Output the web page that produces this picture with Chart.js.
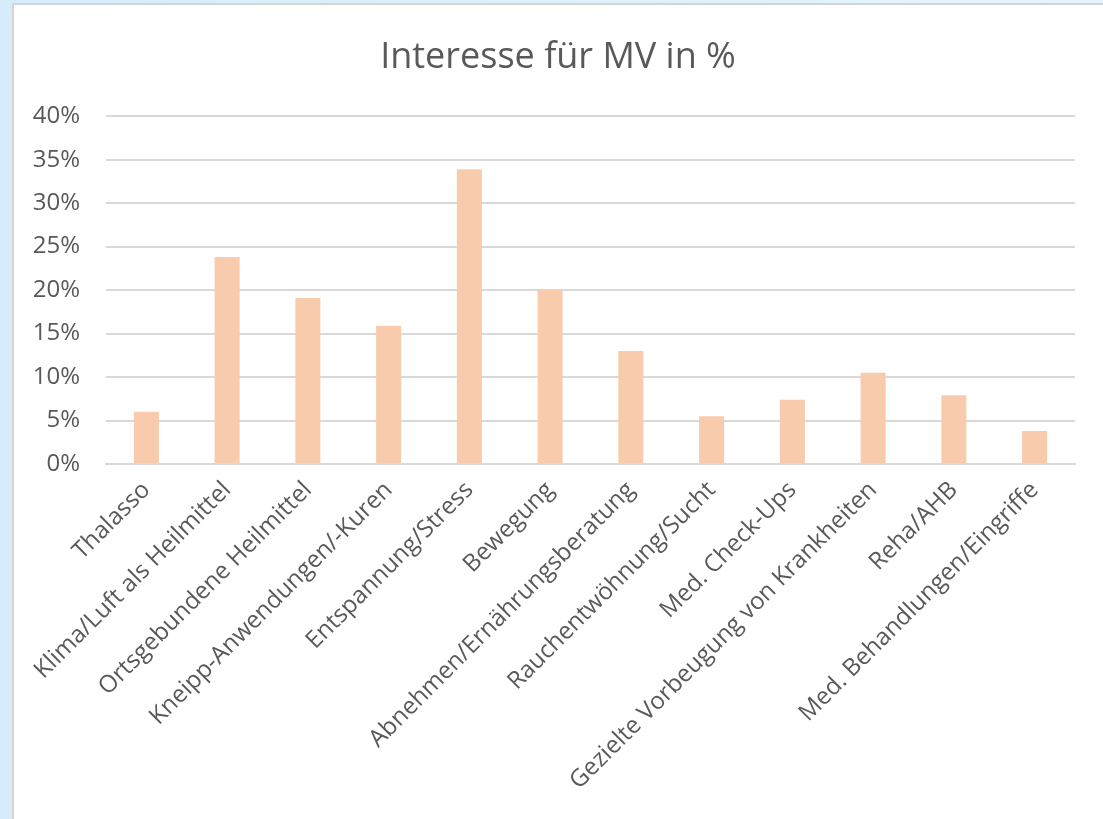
<!DOCTYPE html>
<html>
<head>
<meta charset="utf-8">
<script src="https://cdn.jsdelivr.net/npm/chart.js@4/dist/chart.umd.min.js"></script>
<style>
  html, body { margin: 0; padding: 0; }
  body {
    width: 1103px; height: 819px; overflow: hidden;
    background: linear-gradient(90deg, #d6ecfa 0%, #e6f4fc 100%);
  }
  #box {
    position: absolute; left: 12px; top: 3px;
    width: 1100px; height: 830px;
    background: #fff;
    border: 2px solid #d4d4d4;
  }
  #chart { position: absolute; left: 13px; top: 4px; }
</style>
</head>
<body>
<div id="box"></div>
<canvas id="chart" width="1090" height="815"></canvas>
<script>
const categories = [
  "Thalasso",
  "Klima/Luft als Heilmittel",
  "Ortsgebundene Heilmittel",
  "Kneipp-Anwendungen/-Kuren",
  "Entspannung/Stress",
  "Bewegung",
  "Abnehmen/Ernährungsberatung",
  "Rauchentwöhnung/Sucht",
  "Med. Check-Ups",
  "Gezielte Vorbeugung von Krankheiten",
  "Reha/AHB",
  "Med. Behandlungen/Eingriffe"
];

const interest = [6.0, 23.8, 19.1, 15.9, 33.9, 20.0, 13.0, 5.5, 7.4, 10.5, 7.9, 3.8];

const yTicks = [0, 5, 10, 15, 20, 25, 30, 35, 40];

const textColor = "#595959";

new Chart(document.getElementById("chart"), {
  type: "bar",
  data: {
    labels: categories,
    datasets: [{
      label: "Interesse",
      data: interest,
      backgroundColor: "#F8CBAD",
      borderWidth: 0,
      categoryPercentage: 1,
      barPercentage: 0.31
    }]
  },
  options: {
    responsive: false,
    animation: false,
    devicePixelRatio: 1,
    layout: { padding: 0 },
    plugins: {
      legend: { display: false },
      tooltip: { enabled: false },
      title: {
        display: true,
        text: "Interesse für MV in %",
        color: textColor,
        font: { family: "Open Sans", size: 36, weight: "normal" },
        padding: { top: 32, bottom: 37 }
      }
    },
    scales: {
      x: {
        grid: { display: false },
        border: { color: "#d9d9d9", width: 2 },
        ticks: {
          color: textColor,
          font: { family: "Open Sans", size: 24 },
          maxRotation: 45,
          minRotation: 45,
          autoSkip: false,
          padding: 4
        },
        afterFit: function (scale) { scale.height = 355; }
      },
      y: {
        min: 0,
        max: 40,
        afterBuildTicks: function (scale) {
          scale.ticks = yTicks.map(v => ({ value: v }));
        },
        grid: { color: "#d9d9d9", lineWidth: 2, drawTicks: false },
        border: { display: false },
        ticks: {
          color: textColor,
          font: { family: "Open Sans", size: 24 },
          padding: 26,
          callback: v => v + "%"
        },
        afterFit: function (scale) { scale.width = 93; }
      },
      // empty right margin so the title centres on the whole box
      yRight: {
        position: "right",
        grid: { display: false },
        border: { display: false },
        ticks: { display: false },
        afterFit: function (scale) { scale.width = 28; }
      }
    }
  }
});
</script>
</body>
</html>
